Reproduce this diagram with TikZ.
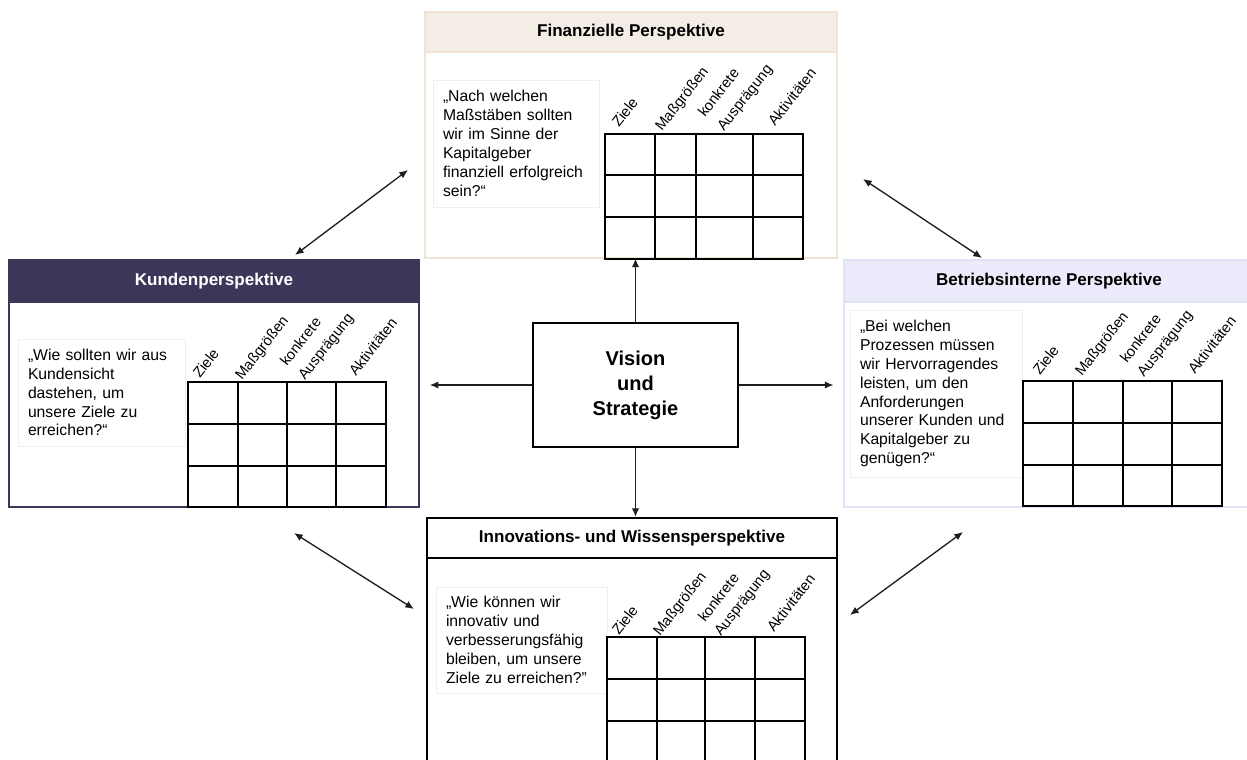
\documentclass[tikz,border=0pt]{standalone}
\usepackage{fontspec}
\setmainfont{Liberation Sans}
\usetikzlibrary{arrows.meta}
\definecolor{finfill}{HTML}{F3EDE5}
\definecolor{finline}{HTML}{EFE4D6}
\definecolor{kunfill}{HTML}{3C3759}
\definecolor{betfill}{HTML}{EBEBFB}
\definecolor{betline}{HTML}{E2E2F6}
\definecolor{qgray}{HTML}{EFEFEF}
\definecolor{arrowgray}{HTML}{1E1E1E}
\begin{document}
\begin{tikzpicture}[x=0.75pt,y=-0.75pt,>={Latex[length=6.5pt,width=5.5pt]},
  persp/.style={draw,fill=white,inner sep=0pt,minimum height=185.25pt},
  head/.style={inner sep=0pt,anchor=north,font=\bfseries\fontsize{12.8}{15}\selectfont},
  qbox/.style={draw=qgray,line width=0.6pt,inner xsep=7.5pt,inner ysep=0pt,align=left,
    font=\fontsize{11.8}{14.2}\selectfont},
  col/.style={rotate=52,anchor=base west,inner sep=0pt,font=\fontsize{11}{13}\selectfont},
  tabline/.style={line width=1.1pt},
  link/.style={<->,line width=1pt,draw=arrowgray}]
\useasboundingbox (0,0) rectangle (1247,760);
\clip (0,0) rectangle (1247,760);
% perspective boxes
\node (fin) [persp,draw=finline,line width=0.8pt,minimum width=309pt,minimum height=184.5pt] at (631,135) {};
\node (finhead) [head,fill=finfill,draw=finline,line width=0.8pt,minimum width=309pt,minimum height=30pt] at (fin.north) {Finanzielle Perspektive};
\node (kun) [persp,draw=kunfill,line width=1.1pt,minimum width=307.5pt] at (214,383.5) {};
\node (kunhead) [head,fill=kunfill,draw=kunfill,line width=1.1pt,text=white,minimum width=307.5pt,minimum height=31.5pt] at (kun.north) {Kundenperspektive};
\node (bet) [persp,draw=betline,line width=0.8pt,minimum width=307.5pt] at (1049,383.5) {};
\node (bethead) [head,fill=betfill,draw=betline,line width=0.8pt,minimum width=307.5pt,minimum height=31.5pt] at (bet.north) {Betriebsinterne Perspektive};
\node (inn) [persp,line width=1.6pt,minimum width=307.5pt] at (632,641.5) {};
\node (innhead) [head,draw,line width=1.6pt,minimum width=307.5pt,minimum height=30pt] at (inn.north) {Innovations- und Wissensperspektive};
% questions
\node (finq) [qbox,text width=109.5pt,minimum height=95.25pt] at (516,143.5)
  {„Nach welchen\\Maßstäben sollten\\wir im Sinne der\\Kapitalgeber\\finanziell erfolgreich\\sein?“};
\node (kunq) [qbox,text width=110.25pt,minimum height=80.25pt] at (101.5,392.5)
  {„Wie sollten wir aus\\Kundensicht\\dastehen, um\\unsere Ziele zu\\erreichen?“};
\node (betq) [qbox,text width=114pt,minimum height=125.25pt] at (936,393.5)
  {„Bei welchen\\Prozessen müssen\\wir Hervorragendes\\leisten, um den\\Anforderungen\\unserer Kunden und\\Kapitalgeber zu\\genügen?“};
\node (innq) [qbox,text width=113.25pt,minimum height=79.5pt] at (521.5,640)
  {„Wie können wir\\innovativ und\\verbesserungsfähig\\bleiben, um unsere\\Ziele zu erreichen?"};
% tables
\draw[tabline] (605,134) rectangle (803,259);
\draw[tabline] (655,134) -- (655,259) (696,134) -- (696,259) (753,134) -- (753,259);
\draw[tabline] (605,175) -- (803,175) (605,217) -- (803,217);
\node (finziele) [col] at (619,128) {Ziele};
\node (finmass) [col] at (662,132) {Maßgrößen};
\node (finkonk) [col] at (705,118) {konkrete};
\node (finausp) [col] at (724,132) {Ausprägung};
\node (finakt) [col] at (775,127) {Aktivitäten};

\draw[tabline] (188,382) rectangle (386,507);
\draw[tabline] (238,382) -- (238,507) (287,382) -- (287,507) (336,382) -- (336,507);
\draw[tabline] (188,424) -- (386,424) (188,466) -- (386,466);
\node (kunziele) [col] at (200,379) {Ziele};
\node (kunmass) [col] at (242,381) {Maßgrößen};
\node (kunkonk) [col] at (287,367) {konkrete};
\node (kunausp) [col] at (305,381) {Ausprägung};
\node (kunakt) [col] at (356,377) {Aktivitäten};

\draw[tabline] (1023,381) rectangle (1222,506);
\draw[tabline] (1073,381) -- (1073,506) (1123,381) -- (1123,506) (1172,381) -- (1172,506);
\draw[tabline] (1023,423) -- (1222,423) (1023,465) -- (1222,465);
\node (betziele) [col] at (1040,376) {Ziele};
\node (betmass) [col] at (1082,377) {Maßgrößen};
\node (betkonk) [col] at (1127,364) {konkrete};
\node (betausp) [col] at (1144,378) {Ausprägung};
\node (betakt) [col] at (1195,375) {Aktivitäten};

\draw[tabline] (607,637) rectangle (805,765);
\draw[tabline] (657,637) -- (657,765) (705,637) -- (705,765) (755,637) -- (755,765);
\draw[tabline] (607,679) -- (805,679) (607,721) -- (805,721);
\node (innziele) [col] at (619,636) {Ziele};
\node (innmass) [col] at (660,637) {Maßgrößen};
\node (innkonk) [col] at (705,623) {konkrete};
\node (innausp) [col] at (721,637) {Ausprägung};
\node (innakt) [col] at (774,633) {Aktivitäten};
% centre
\node (vision) [draw,line width=1.5pt,minimum width=153.75pt,minimum height=93pt,align=center,
  font=\bfseries\fontsize{15}{18.75}\selectfont] at (635.5,385) {Vision\\und\\Strategie};
\draw[->,line width=1pt,arrowgray] (vision.north) -- (vision.north |- fin.south);
\draw[->,line width=1pt,arrowgray] (vision.south) -- (vision.south |- inn.north);
\draw[->,line width=1pt,arrowgray,shorten >=7.5pt] (vision.west) -- (vision.west -| kun.east);
\draw[->,line width=1pt,arrowgray,shorten >=7.5pt] (vision.east) -- (vision.east -| bet.west);
% links between perspectives
\coordinate (tl1) at (295,255);
\coordinate (tl2) at (408,170);
\coordinate (tr1) at (863,179);
\coordinate (tr2) at (982,258);
\coordinate (bl1) at (294,533);
\coordinate (bl2) at (414,609);
\coordinate (br1) at (850,615);
\coordinate (br2) at (963,532);
\draw[link] (tl1) -- (tl2);
\draw[link] (tr1) -- (tr2);
\draw[link] (bl1) -- (bl2);
\draw[link] (br1) -- (br2);
\end{tikzpicture}
\end{document}
